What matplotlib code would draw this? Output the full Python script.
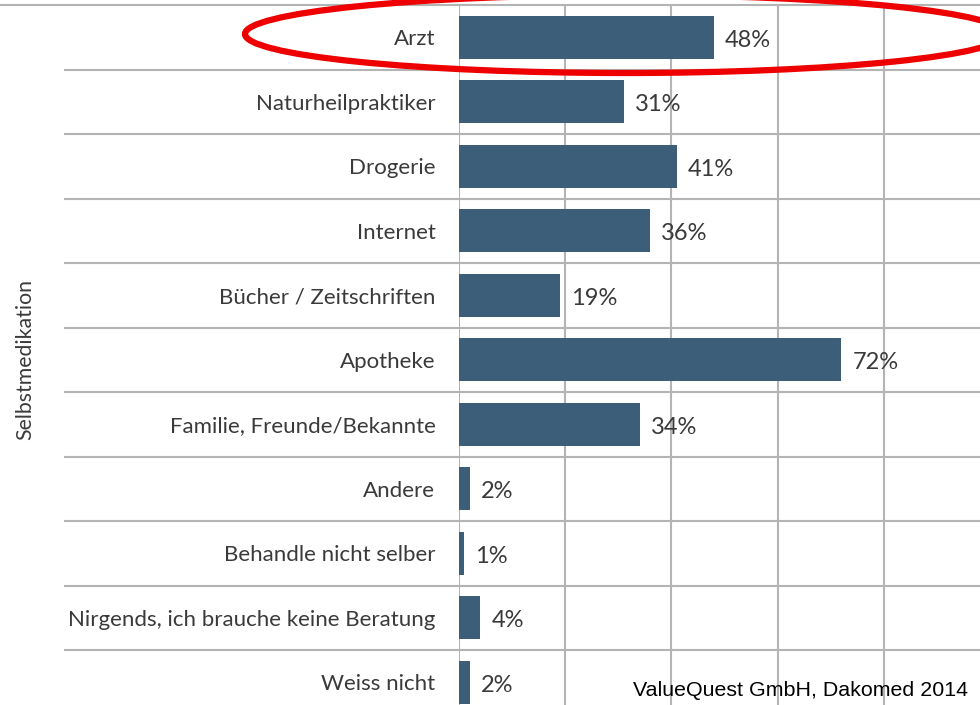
import matplotlib.pyplot as plt
from matplotlib.patches import Ellipse

# Data
categories = ["Arzt", "Naturheilpraktiker", "Drogerie", "Internet",
              "Bücher / Zeitschriften", "Apotheke", "Familie, Freunde/Bekannte",
              "Andere", "Behandle nicht selber",
              "Nirgends, ich brauche keine Beratung", "Weiss nicht"]
values = [48, 31, 41, 36, 19, 72, 34, 2, 1, 4, 2]
grid_ticks = [0, 20, 40, 60, 80]

bar_color = "#3c5e78"
grid_color = "#b4b4b4"
text_color = "#3a3a3a"
label_font = "Lato"

fig = plt.figure(figsize=(9.8, 7.05), dpi=100)
left = 459 / 980
ax = fig.add_axes([left, 0, 1 - left, 1 - 5 / 705])

y = list(range(len(categories)))
ax.barh(y, values, height=0.66, color=bar_color, zorder=3)

rows_visible = 700 / 64.5
ax.set_ylim(-0.5 + rows_visible, -0.5)
ax.set_xlim(0, 521 / 5.31)

# vertical grid
for t in grid_ticks:
    ax.axvline(t, color=grid_color, lw=1.5, zorder=1)

# horizontal separators, extending into the label area
xmin_sep = (65 - 459) / (980 - 459)
for i in range(len(categories)):
    xm = -459 / 521 if i == 0 else xmin_sep
    ax.axhline(i - 0.5, xmin=xm, xmax=1, color=grid_color, lw=1.5,
               clip_on=False, zorder=1)

for s in ax.spines.values():
    s.set_visible(False)
ax.set_xticks([])
ax.set_yticks(y)
ax.set_yticklabels(categories, fontsize=16, color=text_color, family=label_font)
ax.tick_params(axis="y", length=0, pad=17)

for yi, v in zip(y, values):
    ax.annotate(f"{v}%", (v, yi), xytext=(8, -2), textcoords="offset points",
                va="center", ha="left", fontsize=17, color=text_color,
                family=label_font, zorder=4)

fig.text(25 / 980, 1 - 360 / 705, "Selbstmedikation", rotation=90,
         ha="center", va="center", fontsize=15.3, color=text_color, family=label_font)

fig.text(968 / 980, 1 - 690 / 705, "ValueQuest GmbH, Dakomed 2014",
         ha="right", va="center", fontsize=15.4, color="black",
         family="Liberation Sans")

# red highlight ellipse around "Arzt"
ell = Ellipse((625 / 980, 1 - 34 / 705), 760 / 980, 78 / 705,
              transform=fig.transFigure, fill=False, edgecolor="#ee0000",
              lw=4.5, zorder=10)
fig.patches.append(ell)

fig.savefig("out.png", dpi=100)
